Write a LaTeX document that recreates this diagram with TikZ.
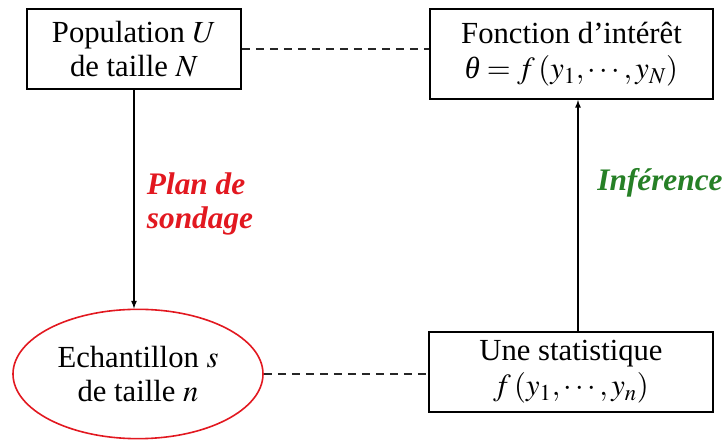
\documentclass[tikz,border=0pt]{standalone}
\usepackage{mathptmx}
\usepackage[no-math]{fontspec}
\setmainfont{Liberation Serif}
\usetikzlibrary{shapes.geometric,arrows.meta,positioning}
\definecolor{rougeplan}{RGB}{226,24,32}
\definecolor{vertinf}{RGB}{38,128,38}

\begin{document}
\begin{tikzpicture}[x=0.75pt, y=-0.75pt, >=latex,
  boite/.style={draw, line width=1.4pt, fill=white, inner sep=0pt, align=center,
    font=\fontsize{23}{25}\selectfont},
  ovale/.style={ellipse, draw=rougeplan, line width=1.2pt, inner sep=0pt, align=center,
    font=\fontsize{23}{25}\selectfont},
  lien/.style={dashed, line width=1.2pt, gray!30!black, dash pattern=on 6pt off 4.5pt},
  fleche/.style={->, line width=1pt},
  etiq/.style={font=\fontsize{23.5}{25.5}\selectfont\bfseries\itshape, align=left}]
  % cadre de l'image 726 x 441 px
  \useasboundingbox (0,0) rectangle (726,441);

  % ---------------- les quatre blocs ----------------
  \node[boite, minimum width=160.5pt, minimum height=60pt] (pop) at (134,49)
    {Population $U$\\de taille $N$};
  \node[boite, minimum width=212pt, minimum height=67.5pt,
    font=\fontsize{23}{26.5}\selectfont] (fonc) at (571.5,54)
    {Fonction d'intérêt\\$\textit{θ} = f\,(y_1,\cdots,y_N)$};
  \node[ovale, minimum width=187.5pt, minimum height=97pt] (ech) at (138,374)
    {Echantillon $s$\\de taille $n$};
  \node[boite, minimum width=213pt, minimum height=60pt,
    font=\fontsize{23}{26}\selectfont] (stat) at (571,372)
    {Une statistique\\$f\,(y_1,\cdots,y_n)$};

  % liens en pointillés
  \draw[lien] (pop.east) -- (pop.east -| fonc.west);
  \draw[lien] (ech.east) -- (ech.east -| stat.west);

  % flèches
  \draw[fleche] (pop.south) -- (pop.south |- ech.north);
  \draw[fleche] ([xshift=5.25pt]stat.north) -- ([xshift=5.25pt]stat.north |- fonc.south);

  % étiquettes
  \node[etiq, rougeplan] (plan) at (200,204) {Plan de\\sondage};
  \node[etiq, vertinf] (inf) at (660,183) {Inférence};
\end{tikzpicture}
\end{document}
